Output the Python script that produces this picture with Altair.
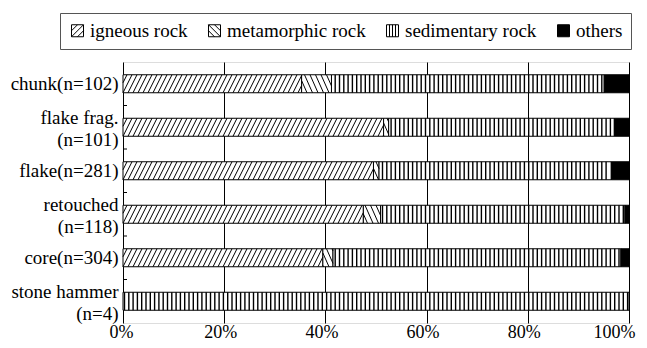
import json
import altair as alt
import pandas as pd

# ---------------- data (percent of each tool type) ----------------
rows = ["chunk(n=102)", "flake frag.|(n=101)", "flake(n=281)",
        "retouched|(n=118)", "core(n=304)", "stone hammer|(n=4)"]
rocks = ["igneous rock", "metamorphic rock", "sedimentary rock", "others"]
igneous = [35.3, 51.5, 49.5, 47.5, 39.5, 0.0]
metamorphic = [5.9, 1.0, 1.1, 3.4, 2.0, 0.0]
sedimentary = [53.9, 44.6, 45.9, 48.3, 56.9, 100.0]
others = [4.9, 3.0, 3.6, 0.8, 1.6, 0.0]
x_ticks = [0, 20, 40, 60, 80, 100]

# ---------------- layout / style ----------------
W, H = 506, 261
BAR_PX = 18.0
FONT = "Liberation Serif"
PPX = W / 100.0            # pixels per percent
PPY = H / len(rows)        # pixels per row
HB = BAR_PX / PPY          # bar height in row units
hatch_kind = {"igneous rock": "fwd", "metamorphic rock": "back",
              "sedimentary rock": "vert", "others": None}

series = {"igneous rock": igneous, "metamorphic rock": metamorphic,
          "sedimentary rock": sedimentary, "others": others}

seg_records = []
for i, _ in enumerate(rows):
    start = 0.0
    for r in rocks:
        v = series[r][i]
        if v > 0:
            seg_records.append({"row": i, "rock": r, "x0": start, "x1": start + v,
                                "xm": start + v / 2.0,
                                "yc": i + 0.5,
                                "y0": i + 0.5 - HB / 2.0, "y1": i + 0.5 + HB / 2.0})
        start += v
seg = pd.DataFrame(seg_records)


def hatch_lines(kind, X0, X1, Hb):
    out = []
    if kind == "fwd":
        S, D = 5.0, 9.0
        for k in range(int((X0 - D) // S) - 1, int(X1 // S) + 2):
            xb = k * S
            ylo = max(0.0, Hb - (X1 - xb) * Hb / D)
            yhi = min(Hb, Hb - (X0 - xb) * Hb / D)
            if yhi - ylo > 0.3:
                f = lambda y: xb + D * (Hb - y) / Hb
                out.append((f(ylo), ylo, f(yhi), yhi))
    elif kind == "back":
        S, D = 5.5, 8.0
        for k in range(int((X0 - D) // S) - 1, int(X1 // S) + 2):
            xt = k * S
            ylo = max(0.0, (X0 - xt) * Hb / D)
            yhi = min(Hb, (X1 - xt) * Hb / D)
            if yhi - ylo > 0.3:
                f = lambda y: xt + D * y / Hb
                out.append((f(ylo), ylo, f(yhi), yhi))
    elif kind == "vert":
        S = 4.3
        for k in range(int(X0 // S), int(X1 // S) + 2):
            x = k * S + 1.5
            if X0 + 1.0 < x < X1 - 1.0:
                out.append((x, 0.0, x, Hb))
    return out


hatch_records = []
for rec in seg_records:
    kind = hatch_kind[rec["rock"]]
    if kind is None:
        continue
    for (xa, ya, xb_, yb) in hatch_lines(kind, rec["x0"] * PPX, rec["x1"] * PPX, BAR_PX):
        hatch_records.append({"hx": xa / PPX, "hx2": xb_ / PPX,
                              "hy": rec["y0"] + ya / PPY, "hy2": rec["y0"] + yb / PPY,
                              "w": 1.4 if kind == "vert" else 1.0})
hatch = pd.DataFrame(hatch_records)

tick_df = pd.DataFrame({"ty": [float(i) for i in range(1, len(rows))]})

# legend symbols: unit-square paths with the hatch drawn in
shape_paths = [
    "M-1,-1H1V1H-1Z M-1,0L0,-1 M-1,1L1,-1 M0,1L1,0",
    "M-1,-1H1V1H-1Z M-1,0L0,1 M-1,-1L1,1 M0,-1L1,0",
    "M-1,-1H1V1H-1Z M-0.5,-1V1 M0,-1V1 M0.5,-1V1",
    "M-1,-1H1V1H-1Z",
]
fill_range = ["white", "white", "white", "black"]

xscale = alt.Scale(domain=[0, 100], nice=False, zero=False)
yscale = alt.Scale(domain=[0, len(rows)], reverse=True, nice=False, zero=False)

LINE_H = 22.0
FIRST_LINE_SHIFT = 10.0   # px: two-line labels start above the row centre
label_values = [i + 0.5 - (FIRST_LINE_SHIFT / PPY if "|" in r else 0.0)
                for i, r in enumerate(rows)]
label_expr = "split(" + json.dumps(rows) + "[floor(datum.value)], '|')"

x_axis = alt.Axis(values=x_ticks, labelExpr="datum.value + '%'", grid=True,
                  gridColor="black", gridWidth=1, ticks=False, domain=False,
                  labelFont=FONT, labelFontSize=18, labelColor="black",
                  labelPadding=0, labelOverlap=False, labelFlush=True,
                  labelFlushOffset=10, labelOffset=-4, labelBound=False, title=None)
y_axis = alt.Axis(values=label_values, labelExpr=label_expr,
                  grid=False, ticks=False, domain=False, labelFont=FONT,
                  labelFontSize=19, labelColor="black", labelPadding=5,
                  labelLineHeight=LINE_H, labelBaseline="middle", labelOverlap=False,
                  labelBound=False, title=None)

legend = alt.Legend(title=None, orient="none", legendX=-63, legendY=-49,
                    direction="horizontal", columns=4, symbolSize=144,
                    symbolStrokeWidth=1, symbolStrokeColor="black", symbolOpacity=1,
                    labelFont=FONT, labelFontSize=19, labelColor="black", labelLimit=400,
                    strokeColor="#555", fillColor="white", padding=8,
                    columnPadding=17, labelOffset=3)

points = alt.Chart(seg).mark_point(filled=True, strokeWidth=1, size=20).encode(
    x=alt.X("xm:Q", scale=xscale, axis=x_axis),
    y=alt.Y("yc:Q", scale=yscale, axis=y_axis),
    color=alt.Color("rock:N", scale=alt.Scale(domain=rocks, range=fill_range), legend=legend),
    shape=alt.Shape("rock:N", scale=alt.Scale(domain=rocks, range=shape_paths), legend=legend),
    stroke=alt.Stroke("rock:N", scale=alt.Scale(domain=rocks, range=["black"] * len(rocks)),
                      legend=legend),
)

bars = alt.Chart(seg).mark_rect(stroke="black", strokeWidth=1).encode(
    x=alt.X("x0:Q", scale=xscale), x2="x1:Q",
    y=alt.Y("y0:Q", scale=yscale), y2="y1:Q",
    fill=alt.Fill("rock:N", scale=alt.Scale(domain=rocks, range=fill_range), legend=None),
)

lines = alt.Chart(hatch).mark_rule(color="black").encode(
    x=alt.X("hx:Q", scale=xscale), x2="hx2:Q",
    y=alt.Y("hy:Q", scale=yscale), y2="hy2:Q",
    strokeWidth=alt.StrokeWidth("w:Q", scale=None),
)

yticks = alt.Chart(tick_df).mark_rule(color="black", strokeWidth=1).encode(
    x=alt.value(0), x2=alt.value(4),
    y=alt.Y("ty:Q", scale=yscale),
)

chart = alt.layer(points, bars, lines, yticks).properties(
    width=W, height=H,
    autosize=alt.AutoSizeParams(type="none"),
    padding={"left": 115, "top": 54, "right": 10, "bottom": 17},
).configure_view(stroke="black", strokeWidth=1).configure(background="white")

chart.save("out.html", embed_options={"renderer": "svg", "actions": False})
